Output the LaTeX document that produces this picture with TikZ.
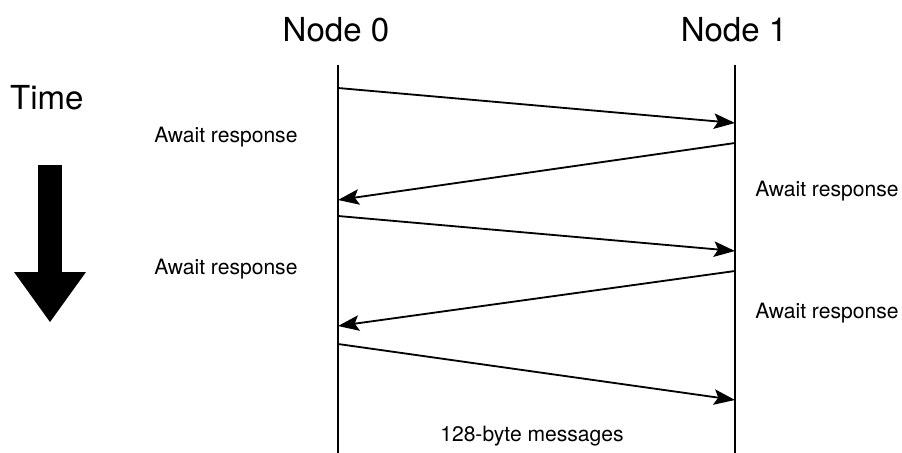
\documentclass[tikz,border=0pt]{standalone}
\usepackage{fontspec}
\setmainfont{TeX Gyre Heros}
\usetikzlibrary{arrows.meta}

\tikzset{
    msg/.style={line width=1.3pt, -{Stealth[length=15pt, width=11pt, inset=3pt]}},
    lifeline/.style={line width=1.4pt},
    await/.style={anchor=west, inner sep=0pt, font=\fontsize{15}{18}\selectfont},
    title/.style={inner sep=0pt, font=\fontsize{23.5}{28}\selectfont}
}

\begin{document}
\begin{tikzpicture}
        \useasboundingbox (0,0) rectangle (22.55,-11.325);

        % lifelines
        \node[title] (n0) at (8.4,-0.75) {Node 0};
        \node[title] (n1) at (18.35,-0.75) {Node 1};
        \coordinate (t0) at (8.45,-1.625);
        \coordinate (b0) at (8.45,-11.325);
        \coordinate (t1) at (18.375,-1.625);
        \coordinate (b1) at (18.375,-11.325);
        \draw[lifeline] (t0) -- (b0);
        \draw[lifeline] (t1) -- (b1);

        % message end points
        \coordinate (a1) at (8.45,-2.2);
        \coordinate (a2) at (18.375,-3.075);
        \coordinate (a3) at (18.375,-3.575);
        \coordinate (a4) at (8.45,-5.0);
        \coordinate (a5) at (8.45,-5.4);
        \coordinate (a6) at (18.375,-6.275);
        \coordinate (a7) at (18.375,-6.775);
        \coordinate (a8) at (8.45,-8.15);
        \coordinate (a9) at (8.45,-8.6);
        \coordinate (a10) at (18.375,-10.0);

        \foreach \s/\e in {1/2,3/4,5/6,7/8,9/10} {
            \draw[msg] (a\s) -- (a\e);
        }

        % labels
        \node[await] (w1) at (3.85,-3.425) {Await response};
        \node[await] (w2) at (18.875,-4.775) {Await response};
        \node[await] (w3) at (3.85,-6.725) {Await response};
        \node[await] (w4) at (18.875,-7.825) {Await response};
        \node[inner sep=0pt, font=\fontsize{15}{18}\selectfont] (cap) at (13.3,-10.9) {128-byte messages};

        % time arrow
        \node[title] (time) at (1.17,-2.45) {Time};
        \fill (0.95,-4.125) rectangle (1.55,-6.85);
        \fill (0.35,-6.8) -- (2.15,-6.8) -- (1.25,-8.05) -- cycle;
    \end{tikzpicture}
\end{document}
